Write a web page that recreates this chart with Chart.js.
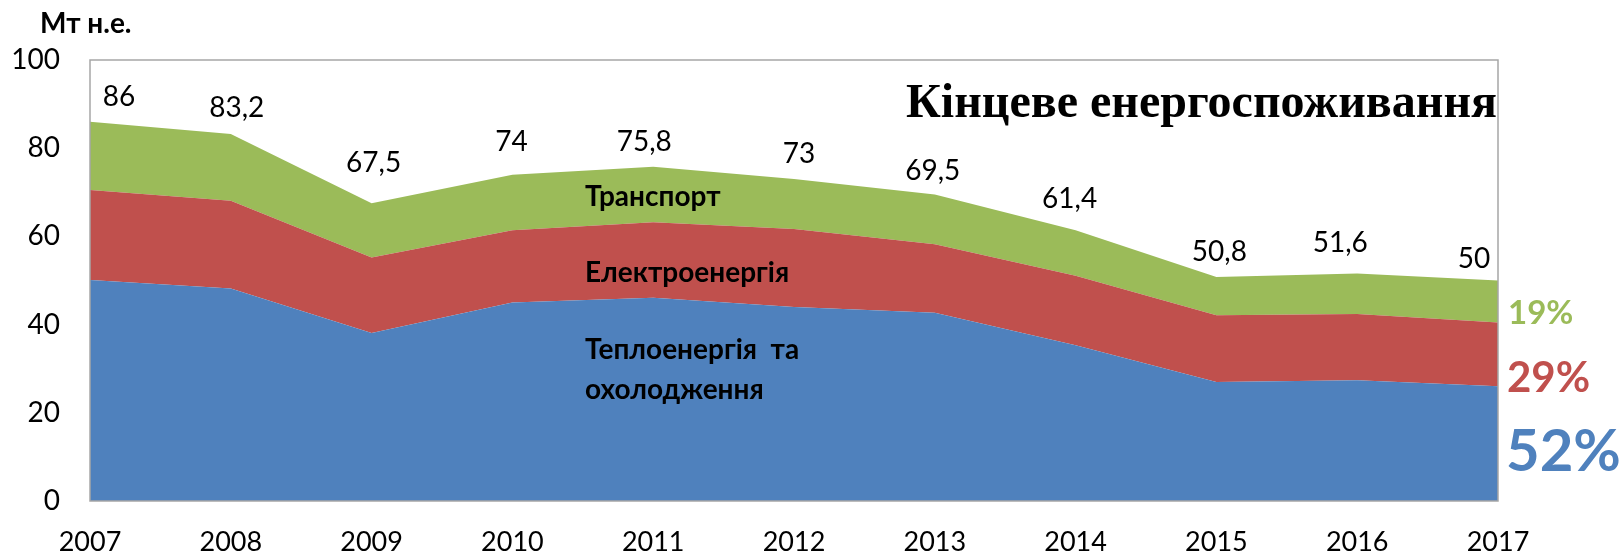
<!DOCTYPE html>
<html>
<head>
<meta charset="utf-8">
<script src="https://cdn.jsdelivr.net/npm/chart.js@4"></script>
<style>
  body { margin: 0; background: #fff; }
  #wrap { width: 1624px; height: 555px; position: relative; }
</style>
</head>
<body>
<div id="wrap"><canvas id="energyChart"></canvas></div>
<script>
// Data (Мт н.е.)
const years = ['2007', '2008', '2009', '2010', '2011', '2012', '2013', '2014', '2015', '2016', '2017'];
const heating = [50.1, 48.2, 38.1, 45.0, 46.1, 44.0, 42.7, 35.3, 27.0, 27.4, 26.0];
const electricity = [20.4, 19.9, 17.1, 16.4, 17.1, 17.7, 15.5, 15.8, 15.1, 15.0, 14.5];
const transport = [15.5, 15.1, 12.3, 12.6, 12.6, 11.3, 11.3, 10.3, 8.7, 9.2, 9.5];
const totals = [86, 83.2, 67.5, 74, 75.8, 73, 69.5, 61.4, 50.8, 51.6, 50];
const yTicks = [0, 20, 40, 60, 80, 100];
const shares = ['52%', '29%', '19%'];

const BLUE = '#4F81BD';
const RED = '#C0504D';
const GREEN = '#9BBB59';
const FONT = 'Lato, "Open Sans", sans-serif';

// little nudges so the total labels sit like in the original
const labelNudge = [[29, -25], [6, -26], [2, -40], [-1, -33], [-9, -25], [5, -25],
                    [-2, -24], [-6, -31], [3, -25], [-17, -30], [-24, -22]];

// Draw frame, total labels and the free texts
const extrasPlugin = {
    id: 'extras',
    afterDatasetsDraw(chart) {
        const ctx = chart.ctx;
        const area = chart.chartArea;
        const xs = chart.scales.x;
        const ys = chart.scales.y;

        ctx.save();
        // plot area border
        ctx.strokeStyle = '#A6A6A6';
        ctx.lineWidth = 1.5;
        ctx.strokeRect(area.left, area.top, area.right - area.left, area.bottom - area.top);

        // totals above the stack
        ctx.fillStyle = '#000';
        ctx.font = '28px ' + FONT;
        ctx.textAlign = 'center';
        ctx.textBaseline = 'middle';
        totals.forEach((t, i) => {
            const x = xs.getPixelForValue(i) + labelNudge[i][0];
            const y = ys.getPixelForValue(t) + labelNudge[i][1];
            ctx.fillText(String(t).replace('.', ','), x, y);
        });

        // axis unit
        ctx.font = 'bold 28px ' + FONT;
        ctx.textAlign = 'left';
        ctx.fillText('Мт н.е.', 40, 24);

        // title
        ctx.font = 'bold 48px "Liberation Serif", "Times New Roman", serif';
        ctx.textAlign = 'right';
        ctx.fillText('Кінцеве енергоспоживання', area.right - 1, 105);

        // series names inside the areas
        ctx.font = 'bold 28px ' + FONT;
        ctx.textAlign = 'left';
        ctx.fillText('Транспорт', 585, 197);
        ctx.fillText('Електроенергія', 585, 273);
        ctx.fillText('Теплоенергія  та', 585, 350);
        ctx.fillText('охолодження', 585, 390);

        // shares at the right
        ctx.font = 'bold 33px ' + FONT;
        ctx.fillStyle = GREEN;
        ctx.fillText(shares[2], area.right + 10, 313);
        ctx.font = 'bold 42px ' + FONT;
        ctx.fillStyle = RED;
        ctx.fillText(shares[1], area.right + 9, 378);
        ctx.font = 'bold 58px ' + FONT;
        ctx.fillStyle = BLUE;
        ctx.fillText(shares[0], area.right + 8, 452);
        ctx.restore();
    }
};

const ctx = document.getElementById('energyChart').getContext('2d');
new Chart(ctx, {
    type: 'line',
    data: {
        labels: years,
        datasets: [
            { label: 'Теплоенергія та охолодження', data: heating, backgroundColor: BLUE, fill: 'origin' },
            { label: 'Електроенергія', data: electricity, backgroundColor: RED, fill: '-1' },
            { label: 'Транспорт', data: transport, backgroundColor: GREEN, fill: '-1' }
        ]
    },
    options: {
        responsive: true,
        maintainAspectRatio: false,
        animation: false,
        elements: {
            line: { tension: 0, borderWidth: 0 },
            point: { radius: 0 }
        },
        layout: { padding: { top: 60, right: 126, left: 0, bottom: 0 } },
        plugins: {
            legend: { display: false },
            tooltip: { enabled: false }
        },
        scales: {
            x: {
                offset: false,
                grid: { display: false, drawTicks: false },
                border: { display: false },
                ticks: {
                    color: '#000',
                    font: { family: FONT, size: 27 },
                    padding: 25,
                    maxRotation: 0,
                    autoSkip: false
                },
                afterFit: (scale) => { scale.height = 54; }
            },
            y: {
                stacked: true,
                min: 0,
                max: 100,
                afterBuildTicks: (scale) => { scale.ticks = yTicks.map(v => ({ value: v })); },
                grid: { display: false, drawTicks: false },
                border: { display: false },
                ticks: {
                    color: '#000',
                    font: { family: FONT, size: 28 },
                    padding: 30
                },
                afterFit: (scale) => { scale.width = 90; }
            }
        }
    },
    plugins: [extrasPlugin]
});
</script>
</body>
</html>
